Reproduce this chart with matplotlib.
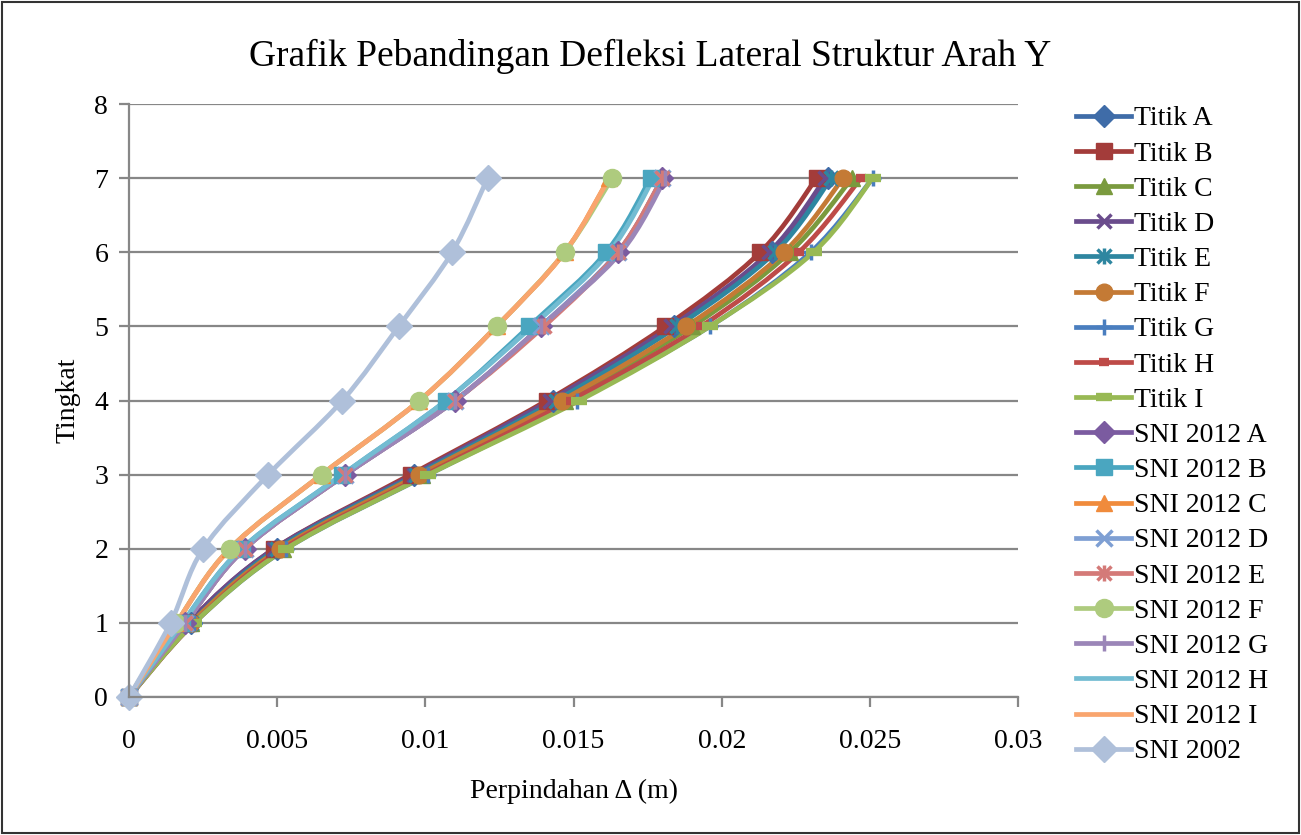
import matplotlib.pyplot as plt
import numpy as np
from matplotlib.path import Path
from matplotlib.patches import PathPatch, Rectangle
from matplotlib.lines import Line2D
from matplotlib.legend_handler import HandlerTuple

plt.rcParams['font.family'] = ['Liberation Serif', 'DejaVu Serif']

# lantai / tingkat
tingkat = [0, 1, 2, 3, 4, 5, 6, 7]

# perpindahan lateral arah Y (m) per titik
titik_a = [0, 0.0021, 0.0050, 0.0096, 0.0143, 0.0184, 0.0217, 0.0236]
titik_b = [0, 0.0020, 0.0049, 0.0095, 0.0141, 0.0181, 0.0213, 0.0232]
titik_c = [0, 0.0021, 0.0052, 0.0099, 0.0147, 0.0190, 0.0223, 0.0244]
titik_d = [0, 0.0020, 0.0049, 0.0096, 0.0142, 0.0183, 0.0216, 0.0235]
titik_e = [0, 0.0021, 0.0050, 0.0097, 0.0144, 0.0185, 0.0218, 0.0237]
titik_f = [0, 0.0021, 0.0051, 0.0098, 0.0146, 0.0188, 0.0221, 0.0241]
titik_g = [0, 0.0022, 0.0053, 0.0101, 0.0151, 0.0196, 0.0230, 0.0251]
titik_h = [0, 0.0022, 0.0052, 0.0100, 0.0149, 0.0193, 0.0226, 0.0247]
titik_i = [0, 0.0022, 0.0053, 0.0101, 0.0152, 0.0196, 0.0231, 0.0251]

# hasil analisis SNI 2012
sni12_a = [0, 0.0019, 0.0039, 0.0073, 0.0110, 0.0139, 0.0165, 0.0180]
sni12_b = [0, 0.0018, 0.0038, 0.0072, 0.0107, 0.0135, 0.0161, 0.0176]
sni12_c = [0, 0.0016, 0.0034, 0.0065, 0.0098, 0.0124, 0.0147, 0.0162]
sni12_d = [0, 0.0019, 0.0039, 0.0073, 0.0110, 0.0139, 0.0165, 0.0180]
sni12_e = [0, 0.0019, 0.0039, 0.0073, 0.0110, 0.0140, 0.0165, 0.0180]
sni12_f = [0, 0.0016, 0.0034, 0.0065, 0.0098, 0.0124, 0.0147, 0.0163]
sni12_g = [0, 0.0019, 0.0039, 0.0073, 0.0110, 0.0139, 0.0166, 0.0181]
sni12_h = [0, 0.0018, 0.0038, 0.0072, 0.0107, 0.0136, 0.0162, 0.0177]
sni12_i = [0, 0.0016, 0.0034, 0.0065, 0.0098, 0.0124, 0.0147, 0.0162]

# hasil analisis SNI 2002
sni02 = [0, 0.0014, 0.0025, 0.0047, 0.0072, 0.0091, 0.0109, 0.0121]

labels = ['Titik A', 'Titik B', 'Titik C', 'Titik D', 'Titik E', 'Titik F',
          'Titik G', 'Titik H', 'Titik I',
          'SNI 2012 A', 'SNI 2012 B', 'SNI 2012 C', 'SNI 2012 D', 'SNI 2012 E',
          'SNI 2012 F', 'SNI 2012 G', 'SNI 2012 H', 'SNI 2012 I', 'SNI 2002']
series = [titik_a, titik_b, titik_c, titik_d, titik_e, titik_f, titik_g, titik_h, titik_i,
          sni12_a, sni12_b, sni12_c, sni12_d, sni12_e, sni12_f, sni12_g, sni12_h, sni12_i,
          sni02]
colors = ['#3F6CA8', '#A33C3A', '#7A9A3E', '#6A4C8C', '#2E86A0', '#C47A35',
          '#4A7EBF', '#BE4B48', '#98B954',
          '#7B5BA0', '#4AA6C0', '#F08B3C', '#7E9FD3', '#D47A78', '#AECB7E',
          '#9B86B8', '#73BCD2', '#F9A56E', '#AFC0DA']
# (marker, ukuran)
markers = [('D', 11), ('s', 12), ('^', 12), ('x', 10), ('*', 0), ('o', 12),
           ('+', 12), ('_', 7), ('_', 11),
           ('D', 11), ('s', 12), ('^', 12), ('x', 12), ('*', 0), ('o', 13),
           ('|', 12), ('None', 0), ('None', 0), ('D', 13)]


def smooth_path(x, y):
    # kurva halus (catmull-rom -> bezier) melalui titik data
    pts = np.column_stack([x, y]).astype(float)
    n = len(pts)
    verts = [pts[0]]
    codes = [Path.MOVETO]
    for i in range(n - 1):
        p0 = pts[max(i - 1, 0)]
        p1 = pts[i]
        p2 = pts[i + 1]
        p3 = pts[min(i + 2, n - 1)]
        c1 = p1 + (p2 - p0) / 6
        c2 = p2 - (p3 - p1) / 6
        verts += [c1, c2, p2]
        codes += [Path.CURVE4] * 3
    return Path(verts, codes)


fig = plt.figure(figsize=(13.01, 8.35), dpi=100)
ax = fig.add_axes([0.0992, 0.1653, 0.6833, 0.7101])

handles = []
for vals, lab, col, (mk, ms) in zip(series, labels, colors, markers):
    patch = PathPatch(smooth_path(vals, tingkat), facecolor='none', edgecolor=col,
                      lw=3.4, capstyle='round', joinstyle='round')
    ax.add_patch(patch)
    if mk == '*':
        # tanda bintang: gabungan x dan garis tegak
        ax.plot(vals, tingkat, ls='none', marker='x', ms=10, mew=2.5, color=col, clip_on=False)
        ax.plot(vals, tingkat, ls='none', marker='|', ms=12, mew=2.5, color=col, clip_on=False)
        h = (Line2D([], [], color=col, lw=3.4, marker='x', ms=10, mew=2.5),
             Line2D([], [], color=col, lw=0, marker='|', ms=12, mew=2.5))
    else:
        mew = 2.5 if mk in ('x', '+', '|') else 1
        if mk == '_':
            mew = 6
        ax.plot(vals, tingkat, ls='none', marker=mk, ms=ms, mew=mew,
                color=col, mec=col, clip_on=False)
        h = Line2D([], [], color=col, lw=3.4, marker=mk, ms=ms, mew=mew, mec=col)
    handles.append(h)

ax.set_xlim(0, 0.03)
ax.set_ylim(0, 8)
ax.set_xticks([0, 0.005, 0.01, 0.015, 0.02, 0.025, 0.03])
ax.set_xticklabels(['0', '0.005', '0.01', '0.015', '0.02', '0.025', '0.03'])
ax.set_yticks(range(0, 9))
ax.yaxis.grid(True, color='#878787', lw=1.6)
ax.set_axisbelow(True)
for s in ('top', 'right'):
    ax.spines[s].set_visible(False)
for s in ('left', 'bottom'):
    ax.spines[s].set_color('#878787')
    ax.spines[s].set_linewidth(1.6)
ax.tick_params(axis='both', labelsize=20, color='#878787', width=1.6, length=7, pad=8)
ax.tick_params(axis='x', pad=16)

ax.set_xlabel('Perpindahan Δ (m)', fontsize=20, labelpad=18)
ax.set_ylabel('Tingkat', fontsize=20, labelpad=10)
fig.text(0.5, 0.932, 'Grafik Pebandingan Defleksi Lateral Struktur Arah Y',
         ha='center', va='center', fontsize=27)

fig.legend(handles, labels, loc='upper left', bbox_to_anchor=(0.827, 0.873),
           frameon=False, fontsize=20, handlelength=2.0, handletextpad=0.1,
           labelspacing=0.35, borderpad=0, borderaxespad=0,
           handler_map={tuple: HandlerTuple(ndivide=1, pad=0)})

fig.patches.append(Rectangle((0.0015, 0.002), 0.997, 0.996, transform=fig.transFigure,
                             fill=False, edgecolor='#333333', lw=1.5))

fig.savefig('out.png', dpi=100)
